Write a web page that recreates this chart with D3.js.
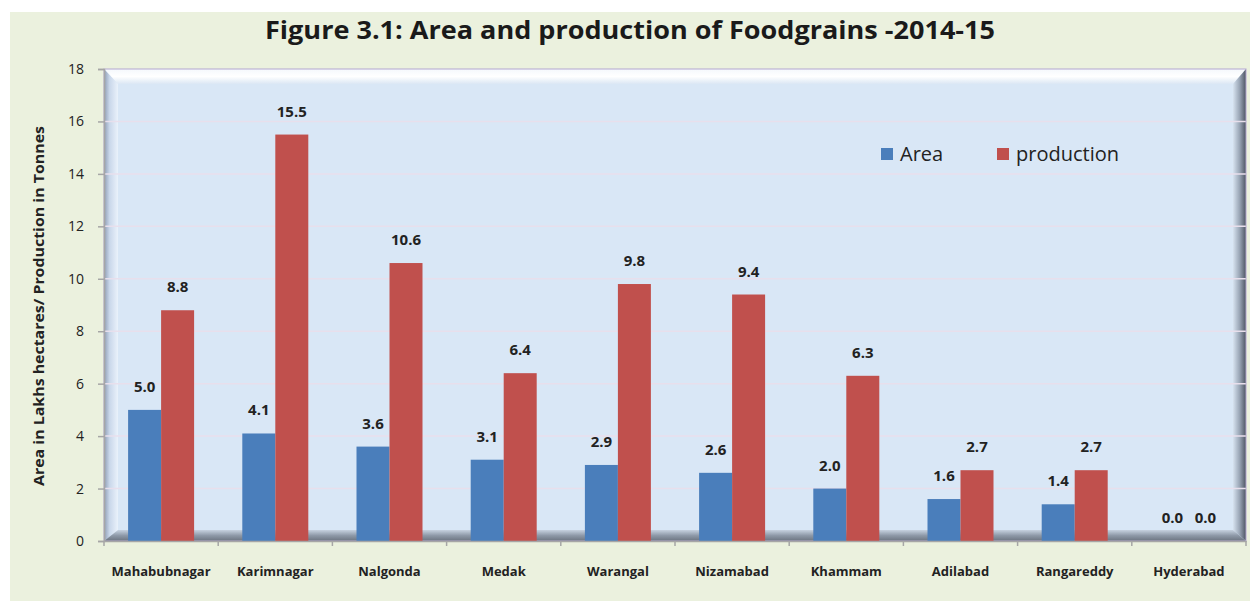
<!DOCTYPE html>
<html>
<head>
<meta charset="utf-8">
<script src="https://cdn.jsdelivr.net/npm/d3@7"></script>
<style>
  body { margin: 0; background: #fff; }
  svg { display: block; font-family: "Open Sans", "Noto Sans", sans-serif; }
</style>
</head>
<body>
<div id="chart"></div>
<script>
// Data
const districts = ["Mahabubnagar", "Karimnagar", "Nalgonda", "Medak", "Warangal",
  "Nizamabad", "Khammam", "Adilabad", "Rangareddy", "Hyderabad"];
const area = [5.0, 4.1, 3.6, 3.1, 2.9, 2.6, 2.0, 1.6, 1.4, 0.0];
const production = [8.8, 15.5, 10.6, 6.4, 9.8, 9.4, 6.3, 2.7, 2.7, 0.0];
const yTicks = [0, 2, 4, 6, 8, 10, 12, 14, 16, 18];
const seriesNames = ["Area", "production"];
const colors = ["#4a7ebb", "#c0504d"];

const width = 1254;
const height = 607;
const marginTop = 69;
const marginRight = 8;
const marginBottom = 66;
const marginLeft = 104;

const x = d3.scaleBand()
    .domain(districts)
    .range([marginLeft, width - marginRight]);

const xInner = d3.scaleBand()
    .domain(seriesNames)
    .range([0, 66])
    .paddingInner(0);

const y = d3.scaleLinear()
    .domain([0, 18])
    .range([height - marginBottom, marginTop]);

const svg = d3.create("svg")
    .attr("width", width)
    .attr("height", height);

// Outer background
svg.append("rect")
    .attr("x", 10).attr("y", 12)
    .attr("width", 1240).attr("height", 589)
    .attr("fill", "#ebf1de");

// Title
svg.append("text")
    .attr("x", 630).attr("y", 39)
    .attr("text-anchor", "middle")
    .attr("font-size", 25)
    .attr("font-weight", "bold")
    .attr("fill", "#1a1a1a")
    .attr("textLength", 730)
    .attr("lengthAdjust", "spacingAndGlyphs")
    .text("Figure 3.1: Area and production of Foodgrains -2014-15");

// Plot frame with bevel
const x0 = marginLeft, x1 = width - marginRight;
const y0 = marginTop, y1 = height - marginBottom;
const bl = 14, bt = 15, br = 13, bb = 11;

const defs = svg.append("defs");
function grad(id, x1g, y1g, x2g, y2g, stops) {
  const g = defs.append("linearGradient").attr("id", id)
      .attr("x1", x1g).attr("y1", y1g).attr("x2", x2g).attr("y2", y2g);
  stops.forEach(([o, c]) => g.append("stop").attr("offset", o).attr("stop-color", c));
}
grad("gTop", "0", "0", "0", "1", [["0", "#f4f8fc"], ["0.5", "#ffffff"], ["1", "#dbe7f4"]]);
grad("gLeft", "0", "0", "1", "0", [["0", "#8e9cb3"], ["0.4", "#c9d7ea"], ["1", "#eaf2fb"]]);
grad("gRight", "0", "0", "1", "0", [["0", "#d7e3f0"], ["0.5", "#9aa6b6"], ["1", "#4d5563"]]);
grad("gBottom", "0", "0", "0", "1", [["0", "#c6d2e0"], ["0.5", "#8e99a8"], ["1", "#6b7480"]]);

svg.append("rect")
    .attr("x", x0).attr("y", y0)
    .attr("width", x1 - x0).attr("height", y1 - y0)
    .attr("fill", "#d9e7f6");

const line = d3.line();
svg.append("path")
    .attr("d", line([[x0, y0], [x1, y0], [x1 - br, y0 + bt], [x0 + bl, y0 + bt]]) + "Z")
    .attr("fill", "url(#gTop)");
svg.append("path")
    .attr("d", line([[x0, y0], [x0 + bl, y0 + bt], [x0 + bl, y1 - bb], [x0, y1]]) + "Z")
    .attr("fill", "url(#gLeft)");
svg.append("path")
    .attr("d", line([[x1, y0], [x1 - br, y0 + bt], [x1 - br, y1 - bb], [x1, y1]]) + "Z")
    .attr("fill", "url(#gRight)");
svg.append("path")
    .attr("d", line([[x0, y1], [x0 + bl, y1 - bb], [x1 - br, y1 - bb], [x1, y1]]) + "Z")
    .attr("fill", "url(#gBottom)");

// Gridlines
svg.append("g")
  .selectAll("line")
  .data(yTicks.filter(d => d > 0 && d < 18))
  .join("line")
    .attr("x1", x0).attr("x2", x1)
    .attr("y1", d => y(d)).attr("y2", d => y(d))
    .attr("stroke", "#e8dfec")
    .attr("stroke-width", 1.5);

svg.append("rect")
    .attr("x", x0).attr("y", y0)
    .attr("width", x1 - x0).attr("height", y1 - y0)
    .attr("fill", "none")
    .attr("stroke", "#b4a7cf")
    .attr("stroke-width", 1);

// Bars
const groups = svg.append("g")
  .selectAll("g")
  .data(districts)
  .join("g")
    .attr("transform", d => `translate(${x(d) + (x.bandwidth() - 66) / 2},0)`);

const seriesValues = [area, production];
groups.selectAll("rect")
  .data((d, i) => seriesNames.map((s, j) => ({ s, j, v: seriesValues[j][i] })))
  .join("rect")
    .attr("x", d => xInner(d.s))
    .attr("y", d => y(d.v))
    .attr("width", xInner.bandwidth())
    .attr("height", d => y(0) - y(d.v))
    .attr("fill", d => colors[d.j]);

groups.selectAll("text")
  .data((d, i) => seriesNames.map((s, j) => ({ s, j, v: seriesValues[j][i] })))
  .join("text")
    .attr("x", d => xInner(d.s) + xInner.bandwidth() / 2)
    .attr("y", d => y(d.v) - 18)
    .attr("text-anchor", "middle")
    .attr("font-size", 15)
    .attr("font-weight", "bold")
    .attr("fill", "#222")
    .text(d => d.v.toFixed(1));

// Y axis
svg.append("g")
    .attr("transform", `translate(${marginLeft},0)`)
    .call(d3.axisLeft(y).tickValues(yTicks).tickSize(6).tickPadding(14))
    .call(g => g.selectAll("path, line").attr("stroke", "#a6a6a6").attr("stroke-width", 1.5))
    .call(g => g.selectAll("text")
        .attr("font-size", 14)
        .attr("font-family", "Open Sans, Noto Sans, sans-serif")
        .attr("fill", "#222"));

// X axis
svg.append("g")
    .attr("transform", `translate(0,${height - marginBottom})`)
    .call(d3.axisBottom(x).tickSize(0).tickPadding(26).tickSizeOuter(0))
    .call(g => g.select(".domain").attr("stroke", "#a6a6a6").attr("stroke-width", 1.5))
    .call(g => g.selectAll("text")
        .attr("font-size", 13)
        .attr("font-weight", "bold")
        .attr("font-family", "Open Sans, Noto Sans, sans-serif")
        .attr("fill", "#222"));

svg.append("g")
  .selectAll("line")
  .data(districts.concat([null]))
  .join("line")
    .attr("x1", (d, i) => marginLeft + i * x.bandwidth())
    .attr("x2", (d, i) => marginLeft + i * x.bandwidth())
    .attr("y1", y(0)).attr("y2", y(0) + 5)
    .attr("stroke", "#a6a6a6")
    .attr("stroke-width", 1.5);

// Y axis title
svg.append("text")
    .attr("transform", `translate(44,${(y0 + y1) / 2 + 1}) rotate(-90)`)
    .attr("text-anchor", "middle")
    .attr("font-size", 15)
    .attr("font-weight", "bold")
    .attr("fill", "#222")
    .attr("textLength", 360)
    .attr("lengthAdjust", "spacingAndGlyphs")
    .text("Area in Lakhs hectares/ Production in Tonnes");

// Legend
const legend = svg.append("g").attr("transform", "translate(881,148)");
const legendX = [0, 116];
seriesNames.forEach((s, i) => {
  legend.append("rect")
      .attr("x", legendX[i]).attr("y", 0)
      .attr("width", 12).attr("height", 12)
      .attr("fill", colors[i]);
  legend.append("text")
      .attr("x", legendX[i] + 19).attr("y", 13)
      .attr("font-size", 20)
      .attr("fill", "#222")
      .text(s);
});

document.getElementById("chart").append(svg.node());
</script>
</body>
</html>
